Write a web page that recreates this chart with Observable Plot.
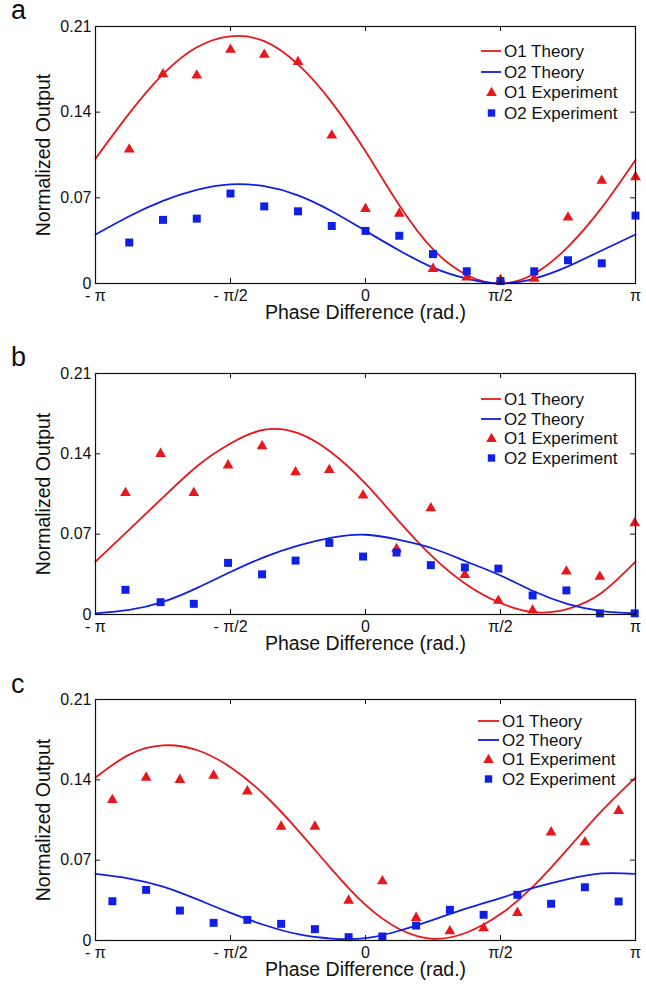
<!DOCTYPE html>
<html>
<head>
<meta charset="utf-8">
<script src="https://cdn.jsdelivr.net/npm/d3@7"></script>
<script src="https://cdn.jsdelivr.net/npm/@observablehq/plot@0.6"></script>
<style>
  html, body { margin: 0; padding: 0; background: #fff; }
  #wrap { position: relative; width: 646px; height: 984px; overflow: hidden;
          font-family: "Liberation Sans", Arial, sans-serif; }
  .panel { position: absolute; left: 0; width: 646px; }
  .panel svg { display: block; }
  #overlay { position: absolute; left: 0; top: 0; pointer-events: none; }
</style>
</head>
<body>
<div id="wrap"></div>
<script>
// ---------------- data (phase in units of π) ----------------
const thetaTheory = [-1, -0.875, -0.75, -0.625, -0.5, -0.375, -0.25, -0.125, 0,
                     0.125, 0.25, 0.375, 0.5, 0.625, 0.75, 0.875, 1];
const thetaExpA = [-0.875, -0.75, -0.625, -0.5, -0.375, -0.25, -0.125, 0,
                   0.125, 0.25, 0.375, 0.5, 0.625, 0.75, 0.875, 1];
const thetaExpB = [-0.889, -0.759, -0.636, -0.509, -0.383, -0.259, -0.134, -0.009,
                   0.115, 0.242, 0.368, 0.492, 0.619, 0.744, 0.868, 0.997];
const thetaExpC = [-0.9375, -0.8125, -0.6875, -0.5625, -0.4375, -0.3125, -0.1875, -0.0625,
                   0.0625, 0.1875, 0.3125, 0.4375, 0.5625, 0.6875, 0.8125, 0.9375];

// panel a
const o1TheoryA = [0.102, 0.139, 0.171, 0.193, 0.202, 0.198, 0.179, 0.148, 0.108,
                   0.064, 0.028, 0.007, 0.000, 0.008, 0.030, 0.062, 0.101];
const o2TheoryA = [0.040, 0.055, 0.0675, 0.0765, 0.081, 0.0795, 0.072, 0.059, 0.043,
                   0.027, 0.013, 0.004, 0.000, 0.004, 0.014, 0.027, 0.040];
const o1ExpA = [0.1095, 0.171, 0.170, 0.191, 0.187, 0.181, 0.121, 0.061,
                0.057, 0.012, 0.005, 0.003, 0.004, 0.054, 0.084, 0.087];
const o2ExpA = [0.0335, 0.052, 0.053, 0.0735, 0.063, 0.059, 0.047, 0.043,
                0.039, 0.024, 0.010, 0.002, 0.010, 0.019, 0.0165, 0.0555];

// panel b
const o1TheoryB = [0.046, 0.074, 0.102, 0.129, 0.149, 0.161, 0.158, 0.141, 0.114,
                   0.081, 0.050, 0.026, 0.010, 0.002, 0.005, 0.019, 0.046];
const o2TheoryB = [0.001, 0.004, 0.011, 0.023, 0.037, 0.050, 0.060, 0.067, 0.0695,
                   0.065, 0.0575, 0.046, 0.034, 0.020, 0.009, 0.003, 0.001];
const o1ExpB = [0.106, 0.140, 0.106, 0.130, 0.1466, 0.124, 0.126, 0.1037,
                0.057, 0.0926, 0.0346, 0.012, 0.0035, 0.0375, 0.033, 0.0795];
const o2ExpB = [0.0215, 0.0107, 0.0093, 0.045, 0.035, 0.047, 0.0624, 0.0505,
                0.054, 0.043, 0.041, 0.040, 0.0166, 0.021, 0.001, 0.001];

// panel c
const o1TheoryC = [0.142, 0.162, 0.170, 0.166, 0.151, 0.127, 0.096, 0.062, 0.031,
                   0.010, 0.0015, 0.007, 0.023, 0.048, 0.080, 0.113, 0.142];
const o2TheoryC = [0.058, 0.054, 0.047, 0.036, 0.024, 0.0135, 0.0055, 0.0017, 0.002,
                   0.0085, 0.018, 0.028, 0.037, 0.046, 0.0535, 0.0585, 0.058];
const o1ExpC = [0.1225, 0.142, 0.140, 0.1437, 0.130, 0.0993, 0.0993, 0.0348,
                0.0517, 0.0198, 0.0081, 0.0107, 0.0241, 0.0943, 0.0856, 0.113];
const o2ExpC = [0.0342, 0.0441, 0.0261, 0.0154, 0.018, 0.0145, 0.0099, 0.0029,
                0.0035, 0.013, 0.0267, 0.0224, 0.0398, 0.032, 0.0464, 0.034];

// axes
const xTickValues = [-1, -0.5, 0, 0.5, 1];
const xTickLabels = ["- π", "- π/2", "0", "π/2", "π"];
const yTickValues = [0, 0.07, 0.14, 0.21];
const yTickLabels = ["0", "0.07", "0.14", "0.21"];
const xTitle = "Phase Difference (rad.)";
const yTitle = "Normalized Output";
const panelLetters = ["a", "b", "c"];
const seriesNames = ["O1 Theory", "O2 Theory", "O1 Experiment", "O2 Experiment"];

// ---------------- drawing ----------------
const RED = "#e8171b";
const BLUE = "#0f1fe6";
const FONT = "Liberation Sans, Arial, sans-serif";

const panels = [
  {top: 0,   height: 330, mt: 26, mb: 47, o1T: o1TheoryA, o2T: o2TheoryA, o1E: o1ExpA, o2E: o2ExpA, xe: thetaExpA,
   letterY: 19, legend: {lx0: 481, lx1: 501, tx: 504, mx: 491.5, rows: [51, 72, 92, 113]}},
  {top: 330, height: 330, mt: 43, mb: 46, o1T: o1TheoryB, o2T: o2TheoryB, o1E: o1ExpB, o2E: o2ExpB, xe: thetaExpB,
   letterY: 366, legend: {lx0: 481, lx1: 501, tx: 504, mx: 491.5, rows: [399, 419, 438, 458]}},
  {top: 660, height: 324, mt: 39, mb: 44, o1T: o1TheoryC, o2T: o2TheoryC, o1E: o1ExpC, o2E: o2ExpC, xe: thetaExpC,
   letterY: 693, legend: {lx0: 478, lx1: 499, tx: 502, mx: 488.5, rows: [721, 740, 759, 779]}}
];

const W = 646, ML = 95, MR = 11;
const wrap = document.getElementById("wrap");

panels.forEach((p, pi) => {
  const ph = p.height - p.mt - p.mb;   // plot height in px
  const pw = W - ML - MR;
  const chart = Plot.plot({
    width: W,
    height: p.height,
    marginLeft: ML,
    marginRight: MR,
    marginTop: p.mt,
    marginBottom: p.mb,
    style: {fontFamily: FONT, fontSize: "16px", background: "transparent", color: "#111"},
    x: {domain: [-1, 1], axis: null},
    y: {domain: [0, 0.21], axis: null},
    marks: [
      Plot.line(thetaTheory, {x: d => d, y: (d, i) => p.o1T[i], stroke: RED, strokeWidth: 1.8, curve: "natural"}),
      Plot.line(thetaTheory, {x: d => d, y: (d, i) => p.o2T[i], stroke: BLUE, strokeWidth: 1.8, curve: "natural"}),
      Plot.dot(p.xe, {x: d => d, y: (d, i) => p.o1E[i], symbol: "triangle", r: 4, fill: RED, stroke: "none"}),
      Plot.dot(p.xe, {x: d => d, y: (d, i) => p.o2E[i], symbol: "square", r: 4.5, fill: BLUE, stroke: "none"}),
      // inward ticks on all four sides
      Plot.tickX(xTickValues, {x: d => d, insetTop: ph - 5, stroke: "#111"}),
      Plot.tickX(xTickValues, {x: d => d, insetBottom: ph - 5, stroke: "#111"}),
      Plot.tickY(yTickValues, {y: d => d, insetRight: pw - 5, stroke: "#111"}),
      Plot.tickY(yTickValues, {y: d => d, insetLeft: pw - 5, stroke: "#111"}),
      Plot.frame({stroke: "#111", strokeWidth: 1.2}),
      // tick labels
      Plot.text(xTickValues, {x: d => d, text: (d, i) => xTickLabels[i], frameAnchor: "bottom", dy: 12,
                              lineAnchor: "middle", textAnchor: "middle", fontSize: 16, fill: "#111"}),
      Plot.text(yTickValues, {y: d => d, text: (d, i) => yTickLabels[i], frameAnchor: "left", textAnchor: "end",
                              lineAnchor: "middle", dx: -4, fontSize: 16, fill: "#111"}),
      // axis titles
      Plot.text([xTitle], {text: d => d, frameAnchor: "bottom", dy: 29, lineAnchor: "middle", textAnchor: "middle",
                           fontSize: 19.5, fill: "#111"}),
      Plot.text([yTitle], {text: d => d, frameAnchor: "left", dx: -52, rotate: -90, lineAnchor: "middle",
                           textAnchor: "middle", fontSize: 19.5, fill: "#111"})
    ]
  });
  const div = document.createElement("div");
  div.className = "panel";
  div.style.top = p.top + "px";
  div.style.height = p.height + "px";
  div.appendChild(chart);
  wrap.appendChild(div);
});

// overlay: panel letters and legends
const NS = "http://www.w3.org/2000/svg";
const ov = document.createElementNS(NS, "svg");
ov.setAttribute("id", "overlay");
ov.setAttribute("width", W);
ov.setAttribute("height", 984);
function el(name, attrs, text) {
  const e = document.createElementNS(NS, name);
  for (const k in attrs) e.setAttribute(k, attrs[k]);
  if (text != null) e.textContent = text;
  ov.appendChild(e);
  return e;
}
panels.forEach((p, pi) => {
  el("text", {x: 11, y: p.letterY, "font-family": FONT, "font-size": 27, fill: "#111"}, panelLetters[pi]);
  const L = p.legend;
  const colors = [RED, BLUE, RED, BLUE];
  seriesNames.forEach((name, k) => {
    const cy = L.rows[k];
    if (k < 2) {
      el("line", {x1: L.lx0, x2: L.lx1, y1: cy, y2: cy, stroke: colors[k], "stroke-width": 1.8});
    } else if (k === 2) {
      const s = 5.3;
      el("path", {d: `M${L.mx},${cy - 5.2}L${L.mx + s},${cy + 3.9}L${L.mx - s},${cy + 3.9}Z`, fill: colors[k]});
    } else {
      el("rect", {x: L.mx - 3.7, y: cy - 3.7, width: 7.4, height: 7.4, fill: colors[k]});
    }
    el("text", {x: L.tx, y: cy, dy: "0.36em", "font-family": FONT, "font-size": 17, fill: "#111"}, name);
  });
});
wrap.appendChild(ov);
</script>
</body>
</html>
